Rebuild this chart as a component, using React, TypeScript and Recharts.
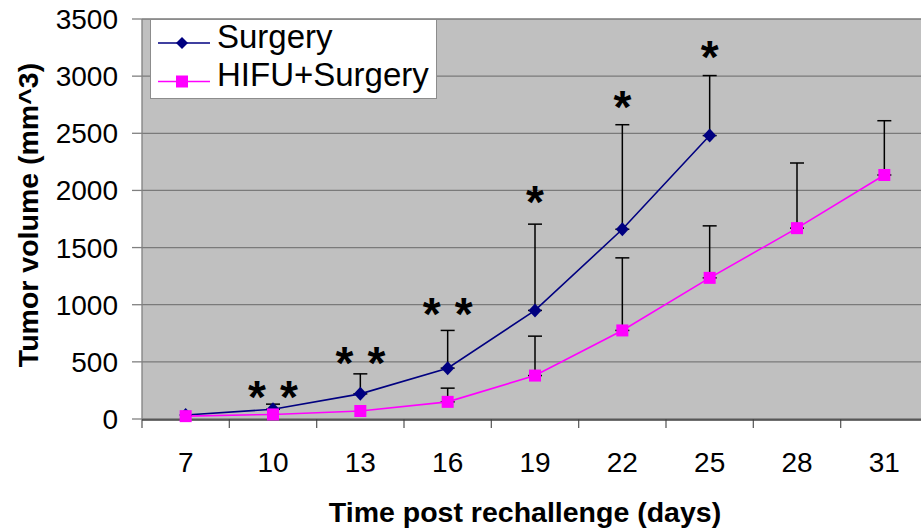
import { CartesianGrid, ErrorBar, Label, Legend, Line, LineChart, XAxis, YAxis } from "recharts";

const FONT = "'Liberation Sans', Arial, sans-serif";
const NAVY = "#000080";
const MAGENTA = "#FF00FF";

// days after rechallenge (x categories) and the boundaries between them (tick marks)
const days = [7, 10, 13, 16, 19, 22, 25, 28, 31];
const dayEdges = [5.5, 8.5, 11.5, 14.5, 17.5, 20.5, 23.5, 26.5, 29.5, 32.5];
const volumeTicks = [0, 500, 1000, 1500, 2000, 2500, 3000, 3500];

// tumor volume (mm^3), upper error in the same unit
const surgery = [35, 85, 220, 445, 950, 1660, 2480, null, null];
const surgeryErr = [null, 45, 175, 330, 755, 915, 525, null, null];
const hifuSurgery = [25, 40, 70, 150, 380, 775, 1235, 1670, 2135];
const hifuSurgeryErr = [null, null, null, 120, 345, 635, 455, 570, 475];

// significance marks: how many asterisks, and the level their centre sits at
const starCount = [0, 2, 2, 2, 1, 1, 1, 0, 0];
const starLevel = [null, 280, 577, 1000, 1985, 2815, 3250, null, null];

const seriesNames = ["Surgery", "HIFU+Surgery"];

const rows = days.map((day, i) => ({
  day,
  surgery: surgery[i],
  surgeryErr: surgeryErr[i] == null ? null : [0, surgeryErr[i]],
  hifu: hifuSurgery[i],
  hifuErr: hifuSurgeryErr[i] == null ? null : [0, hifuSurgeryErr[i]],
  star: starLevel[i],
  stars: starCount[i],
}));

const STAR_SIZE = 46;

function DiamondDot(props: any) {
  const { cx, cy, value } = props;
  if (cx == null || cy == null || value == null) return <g key={props.key} />;
  return (
    <polygon
      key={props.key}
      points={`${cx},${cy - 7} ${cx + 6.5},${cy} ${cx},${cy + 7} ${cx - 6.5},${cy}`}
      fill={NAVY}
    />
  );
}

function SquareDot(props: any) {
  const { cx, cy, value } = props;
  if (cx == null || cy == null || value == null) return <g key={props.key} />;
  return <rect key={props.key} x={cx - 6} y={cy - 6} width={12} height={12} fill={MAGENTA} />;
}

function StarDot(props: any) {
  const { cx, cy, payload } = props;
  if (cx == null || cy == null || !payload || !payload.stars) return <g key={props.key} />;
  const offsets = payload.stars === 2 ? [-16, 16] : [0];
  return (
    <g key={props.key}>
      {offsets.map((dx) => (
        <text
          key={dx}
          x={cx + dx}
          y={cy + STAR_SIZE * 0.56}
          textAnchor="middle"
          fontSize={STAR_SIZE}
          fontWeight="bold"
          fontFamily={FONT}
          fill="#000"
        >
          *
        </text>
      ))}
    </g>
  );
}

// boundary ticks carry no label, only the short tick line
function NoLabel() {
  return <g />;
}

function LegendBox() {
  return (
    <svg width={288} height={81} style={{ display: "block" }}>
      <rect x={0.5} y={0.5} width={286} height={79} fill="#fff" stroke="#8c8c8c" />
      {seriesNames.map((name, i) => {
        const y = 24 + i * 38.5;
        return (
          <g key={name}>
            <line x1={8} x2={60} y1={y} y2={y} stroke={i === 0 ? NAVY : MAGENTA} strokeWidth={1.6} />
            {i === 0 ? (
              <polygon points={`32,${y - 6} 38,${y} 32,${y + 6} 26,${y}`} fill={NAVY} />
            ) : (
              <rect x={26} y={y - 6} width={12} height={12} fill={MAGENTA} />
            )}
            <text x={67} y={y + 4.5} fontSize={33} fontFamily={FONT} fill="#000">
              {name}
            </text>
          </g>
        );
      })}
    </svg>
  );
}

function YTitle(props: any) {
  const vb = props.viewBox || { x: 0, y: 19, height: 400 };
  const x = 28;
  const y = vb.y + vb.height / 2 - 4;
  return (
    <text
      x={x}
      y={y}
      transform={`rotate(-90, ${x}, ${y})`}
      textAnchor="middle"
      dominantBaseline="central"
      fontSize={28.5}
      fontWeight="bold"
      fontFamily={FONT}
      fill="#000"
    >
      Tumor volume (mm^3)
    </text>
  );
}

export default function App() {
  return (
    <div style={{ position: "absolute", left: 0, top: 0, width: 921, height: 530, overflow: "hidden", background: "#fff" }}>
      <LineChart width={930} height={530} data={rows} margin={{ top: 19, right: 2, bottom: 0, left: 0 }}>
        <CartesianGrid vertical={false} stroke="#7a7a7a" strokeWidth={1.3} fill="#C0C0C0" />
        {/* tick marks sit between the days, like a category axis */}
        <XAxis
          dataKey="day"
          type="number"
          domain={[5.5, 32.5]}
          allowDataOverflow
          ticks={dayEdges}
          interval={0}
          tick={<NoLabel />}
          tickSize={9}
          tickLine={{ stroke: "#606060", strokeWidth: 1.3 }}
          axisLine={false}
          height={1}
        />
        <XAxis
          xAxisId="days"
          dataKey="day"
          type="number"
          domain={[5.5, 32.5]}
          allowDataOverflow
          ticks={days}
          interval={0}
          tickLine={false}
          tickMargin={26}
          axisLine={{ stroke: "#404040", strokeWidth: 1.5 }}
          tick={{ fontSize: 28, fill: "#000", fontFamily: FONT }}
          height={110}
        >
          <Label
            value="Time post rechallenge (days)"
            position="insideBottom"
            offset={8}
            dx={-10}
            style={{ fontSize: 28.5, fontWeight: "bold", fontFamily: FONT, fill: "#000" }}
          />
        </XAxis>
        <YAxis
          type="number"
          domain={[0, 3500]}
          ticks={volumeTicks}
          width={142}
          tickSize={10}
          tickMargin={14}
          axisLine={{ stroke: "#808080", strokeWidth: 1.3 }}
          tickLine={{ stroke: "#808080", strokeWidth: 1.3 }}
          tick={{ fontSize: 28, fill: "#000", fontFamily: FONT }}
        >
          <Label content={<YTitle />} />
        </YAxis>
        <Legend
          layout="vertical"
          align="center"
          verticalAlign="middle"
          wrapperStyle={{ left: 150, top: 19, width: 288 }}
          content={<LegendBox />}
        />
        <Line
          xAxisId="days"
          dataKey="surgery"
          name="Surgery"
          stroke={NAVY}
          strokeWidth={1.6}
          dot={DiamondDot}
          activeDot={false}
          isAnimationActive={false}
        >
          <ErrorBar dataKey="surgeryErr" direction="y" width={7} stroke="#000" strokeWidth={1.5} isAnimationActive={false} />
        </Line>
        <Line
          xAxisId="days"
          dataKey="hifu"
          name="HIFU+Surgery"
          stroke={MAGENTA}
          strokeWidth={1.6}
          dot={SquareDot}
          activeDot={false}
          isAnimationActive={false}
        >
          <ErrorBar dataKey="hifuErr" direction="y" width={7} stroke="#000" strokeWidth={1.5} isAnimationActive={false} />
        </Line>
        <Line
          dataKey="star"
          stroke="none"
          legendType="none"
          dot={StarDot}
          activeDot={false}
          isAnimationActive={false}
        />
      </LineChart>
    </div>
  );
}
